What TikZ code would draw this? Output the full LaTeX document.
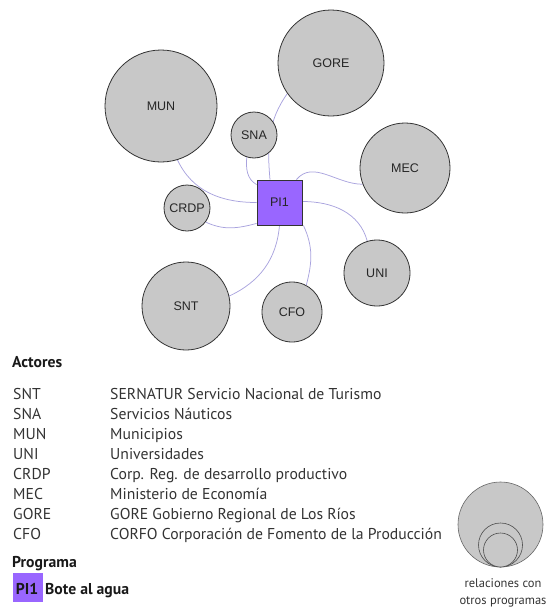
\documentclass[tikz,border=0pt]{standalone}
\usepackage{fontspec}
\setmainfont{PT Sans}
\newfontfamily\arialfont{Liberation Sans}
\usetikzlibrary{backgrounds}

\definecolor{actorgris}{HTML}{C8C8C8}
\definecolor{borde}{HTML}{333333}
\definecolor{progmorado}{HTML}{9966FF}
\definecolor{lila}{HTML}{A9A3DE}
\definecolor{textogris}{HTML}{333333}

\tikzset{
	actor/.style={circle, draw=borde, fill=actorgris, line width=0.8pt, inner sep=0pt,
		minimum size=#1, text=black!85, font=\arialfont\fontsize{12.5}{14}\selectfont},
	programa/.style={rectangle, draw=borde, fill=progmorado, line width=0.8pt, inner sep=0pt,
		minimum size=45pt, text=black!85, font=\arialfont\fontsize{12.5}{14}\selectfont},
	enlace/.style={draw=lila, line width=0.75pt},
	leyenda/.style={anchor=base west, inner sep=0pt, text=textogris, font=\fontsize{15.7}{18}\selectfont},
	titulo/.style={leyenda, text=black!90, font=\bfseries\fontsize{15.7}{18}\selectfont},
	muestra/.style={circle, draw=black!60, fill=actorgris, line width=0.6pt, inner sep=0pt, minimum size=#1},
	nota/.style={anchor=base, inner sep=0pt, text=textogris, font=\fontsize{12.5}{14}\selectfont}
}

\begin{document}
\begin{tikzpicture}[x=1pt, y=1pt]
	\useasboundingbox (0,0) rectangle (547,-608);

	% actores y programa
	\node (mun)[actor=112pt] at (161,-106) {MUN};
	\node (gore)[actor=106pt] at (331,-63) {GORE};
	\node (sna)[actor=46pt] at (254,-135) {SNA};
	\node (mec)[actor=90pt] at (405,-168) {MEC};
	\node (crdp)[actor=46pt] at (187,-208) {CRDP};
	\node (uni)[actor=66pt] at (377,-273) {UNI};
	\node (snt)[actor=88pt] at (186,-306) {SNT};
	\node (cfo)[actor=60pt] at (292,-312) {CFO};
	\node (pi)[programa] at (279.5,-202.5) {PI1};

	% relaciones
	\begin{scope}[on background layer]
		\draw [enlace](mun.-73) to[out=-65, in=180] (pi.west);
		\draw [enlace](crdp.-37) to[out=-25, in=195] ([yshift=2pt]pi.south west);
		\draw [enlace](sna.-108) to[out=-95, in=150] ([yshift=-5pt]pi.north west);
		\draw [enlace](gore.-145) to[out=-125, in=95] ([xshift=-9.5pt]pi.north);
		\draw [enlace](mec.-159) to[out=180, in=50] ([xshift=-6pt]pi.north east);
		\draw [enlace]([yshift=1pt]pi.east) to[out=0, in=105] (uni.107);
		\draw [enlace](pi.south) to[out=-95, in=25] (snt.13);
		\draw [enlace]([xshift=1pt]pi.south east) to[out=-65, in=75] (cfo.62);
	\end{scope}

	% leyenda
	\node (actores)[titulo] at (12,-367) {Actores};
	\foreach \abr/\desc [count=\i] in {
		SNT/SERNATUR Servicio Nacional de Turismo,
		SNA/Servicios Náuticos,
		MUN/Municipios,
		UNI/Universidades,
		CRDP/Corp. Reg. de desarrollo productivo,
		MEC/Ministerio de Economía,
		GORE/GORE Gobierno Regional de Los Ríos,
		CFO/CORFO Corporación de Fomento de la Producción}{
		\node (abr\i)[leyenda] at (13,{-399-20*(\i-1)}) {\abr};
		\node (desc\i)[leyenda] at (110,{-399-20*(\i-1)}) {\desc};
	}
	\node (programas)[titulo] at (12,-567) {Programa};
	\node (pibox)[rectangle, fill=progmorado, minimum width=30pt, minimum height=29pt, inner sep=0pt] at (28,-587.5) {};
	\node (pinombre)[titulo, anchor=base] at (27,-594) {PI1};
	\node (pititulo)[titulo] at (45,-594) {Bote al agua};

	\node (grande)[muestra=85pt] at (500.5,-524.5) {};
	\node (media)[muestra=44pt, draw=black!70] at (500.5,-545) {};
	\node (chica)[muestra=34pt, draw=black!70] at (500.5,-550) {};
	\node (nota1)[nota] at (503,-587) {relaciones con};
	\node (nota2)[nota] at (503,-604) {otros programas};
\end{tikzpicture}
\end{document}
